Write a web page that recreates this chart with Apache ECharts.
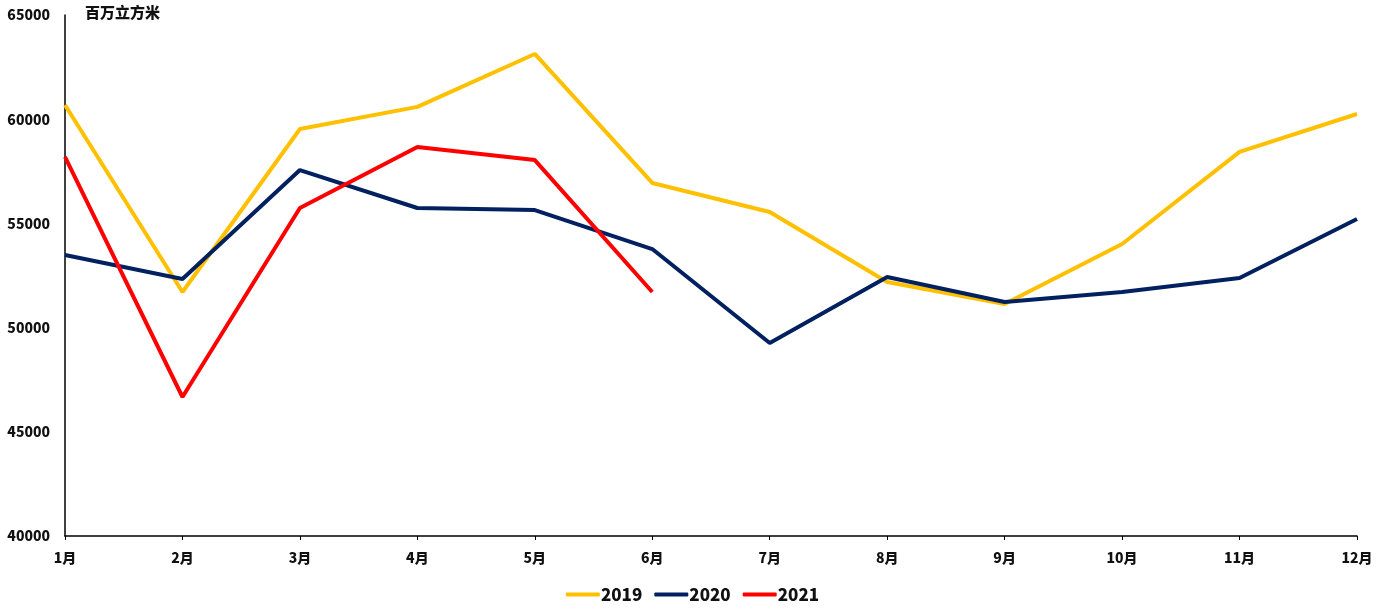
<!DOCTYPE html>
<html>
<head>
<meta charset="utf-8">
<script src="https://cdn.jsdelivr.net/npm/echarts@6/dist/echarts.min.js"></script>
<style>html,body{margin:0;padding:0;background:#fff;}#c{width:1385px;height:611px;}</style>
</head>
<body>
<div id="c"></div>
<script>
const months = ['1月','2月','3月','4月','5月','6月','7月','8月','9月','10月','11月','12月'];
const s2019 = [60680, 51710, 59530, 60590, 63130, 56940, 55550, 52190, 51130, 54010, 58430, 60250];
const s2020 = [53480, 52330, 57560, 55740, 55640, 53770, 49260, 52430, 51230, 51710, 52380, 55210];
const s2021 = [58190, 46670, 55740, 58670, 58040, 51710];
const unitLabel = '百万立方米';

const FONT = '"Noto Sans CJK SC", "Noto Sans", sans-serif';
const chart = echarts.init(document.getElementById('c'));
const mk = (name, data, color) => ({
  name, type: 'line', data, symbol: 'none', smooth: false,
  lineStyle: { color, width: 4 }, itemStyle: { color }
});
chart.setOption({
  animation: false,
  textStyle: { fontFamily: FONT },
  grid: { left: 65, right: 28, top: 15, bottom: 75, containLabel: false },
  legend: {
    bottom: 3, left: 'center',
    itemWidth: 34, itemHeight: 4, itemGap: 12,
    icon: 'roundRect',
    textStyle: { fontFamily: FONT, fontWeight: 900, fontSize: 17, color: '#111', padding: [0,0,0,-4] },
    data: ['2019', '2020', '2021']
  },
  xAxis: {
    type: 'category', data: months, boundaryGap: false,
    axisLine: { lineStyle: { color: '#000', width: 1.5 } },
    axisTick: { show: true, alignWithLabel: true, length: 4, lineStyle: { color: '#000' } },
    axisLabel: { fontFamily: FONT, fontWeight: 900, fontSize: 14, color: '#111', margin: 15 }
  },
  yAxis: {
    type: 'value', min: 40000, max: 65000, interval: 5000,
    axisLine: { show: true, lineStyle: { color: '#000', width: 1.5 } },
    axisTick: { show: false },
    splitLine: { show: false },
    axisLabel: { fontFamily: FONT, fontWeight: 900, fontSize: 14, color: '#111', margin: 15,
      formatter: v => String(v) }
  },
  graphic: [{
    type: 'text', left: 85, top: 5,
    style: { text: unitLabel, font: '900 15px ' + FONT, fill: '#111' }
  }],
  series: [
    mk('2019', s2019, '#FFC000'),
    mk('2020', s2020, '#002060'),
    mk('2021', s2021, '#FF0000')
  ]
});
</script>
</body>
</html>
